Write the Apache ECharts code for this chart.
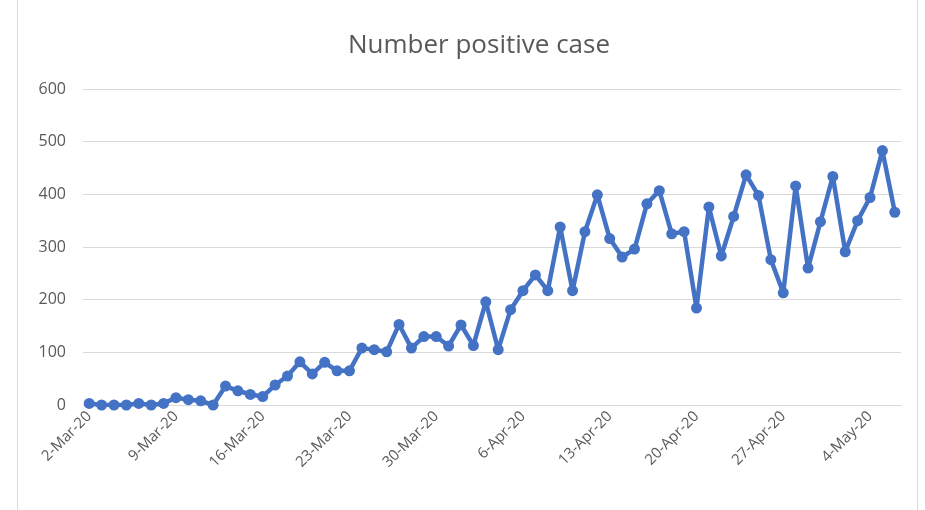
<!DOCTYPE html>
<html>
<head>
<meta charset="utf-8">
<script src="https://cdn.jsdelivr.net/npm/echarts@6/dist/echarts.min.js"></script>
<style>
  html, body { margin: 0; padding: 0; background: #fff; }
  #frame { position: absolute; left: 17px; top: -2px; width: 901px; height: 520px; border: 1px solid #d9d9d9; box-sizing: border-box; }
  #main { position: absolute; left: 0; top: 0; width: 925px; height: 510px; }
</style>
</head>
<body>
<div id="frame"></div>
<div id="main"></div>
<script>
// one label per day, 2-Mar-20 .. 6-May-20
var dates = [
  '2-Mar-20','3-Mar-20','4-Mar-20','5-Mar-20','6-Mar-20','7-Mar-20','8-Mar-20',
  '9-Mar-20','10-Mar-20','11-Mar-20','12-Mar-20','13-Mar-20','14-Mar-20','15-Mar-20',
  '16-Mar-20','17-Mar-20','18-Mar-20','19-Mar-20','20-Mar-20','21-Mar-20','22-Mar-20',
  '23-Mar-20','24-Mar-20','25-Mar-20','26-Mar-20','27-Mar-20','28-Mar-20','29-Mar-20',
  '30-Mar-20','31-Mar-20','1-Apr-20','2-Apr-20','3-Apr-20','4-Apr-20','5-Apr-20',
  '6-Apr-20','7-Apr-20','8-Apr-20','9-Apr-20','10-Apr-20','11-Apr-20','12-Apr-20',
  '13-Apr-20','14-Apr-20','15-Apr-20','16-Apr-20','17-Apr-20','18-Apr-20','19-Apr-20',
  '20-Apr-20','21-Apr-20','22-Apr-20','23-Apr-20','24-Apr-20','25-Apr-20','26-Apr-20',
  '27-Apr-20','28-Apr-20','29-Apr-20','30-Apr-20','1-May-20','2-May-20','3-May-20',
  '4-May-20','5-May-20','6-May-20'
];
var positiveCases = [
  3, 0, 0, 0, 3, 0, 3, 14, 10, 8,
  0, 36, 27, 20, 16, 38, 55, 82, 59, 81,
  65, 65, 108, 105, 101, 153, 108, 130, 130, 112,
  152, 113, 196, 105, 181, 217, 247, 217, 338, 217,
  329, 399, 316, 281, 296, 382, 407, 325, 329, 184,
  376, 283, 358, 437, 398, 276, 213, 416, 260, 348,
  434, 291, 350, 394, 483, 366
];
var yTicks = [0, 100, 200, 300, 400, 500, 600];

var chart = echarts.init(document.getElementById('main'));
chart.setOption({
    animation: false,
    title: {
        text: 'Number positive case',
        left: 474,
        top: 28,
        textAlign: 'center',
        textStyle: { fontFamily: 'Open Sans', fontSize: 26, fontWeight: 'normal', color: '#595959' }
    },
    grid: { left: 83, right: 24, top: 89, bottom: 105 },
    xAxis: {
        type: 'category',
        data: dates,
        boundaryGap: true,
        axisLine: { lineStyle: { color: '#d9d9d9', width: 1 } },
        axisTick: { interval: 6, length: 5, lineStyle: { color: '#d9d9d9' } },
        axisLabel: {
            interval: 6,
            rotate: 45,
            margin: 9,
            fontFamily: 'Open Sans',
            fontSize: 15,
            color: '#595959'
        },
        splitLine: { show: false }
    },
    yAxis: {
        type: 'value',
        min: yTicks[0],
        max: yTicks[yTicks.length - 1],
        interval: 100,
        axisLine: { show: false },
        axisTick: { show: false },
        axisLabel: { fontFamily: 'Open Sans', fontSize: 16, color: '#595959', margin: 17 },
        splitLine: { lineStyle: { color: '#d9d9d9', width: 1 } }
    },
    series: [{
        name: 'Number positive case',
        type: 'line',
        data: positiveCases,
        symbol: 'circle',
        symbolSize: 11,
        showAllSymbol: true,
        itemStyle: { color: '#4472C4' },
        lineStyle: { color: '#4472C4', width: 4.5 }
    }]
});
</script>
</body>
</html>
